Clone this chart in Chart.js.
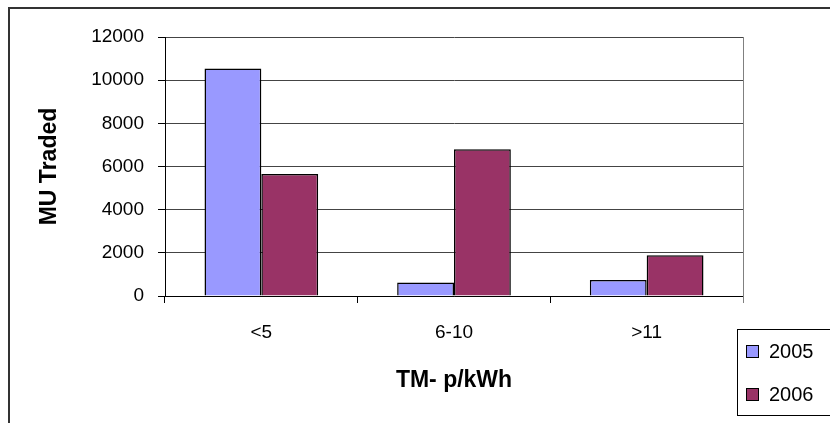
<!DOCTYPE html>
<html lang="en">
<head>
    <meta charset="UTF-8">
    <title>MU Traded by TM price band</title>
    <script src="https://cdn.jsdelivr.net/npm/chart.js"></script>
    <style>
        body {
            margin: 0;
            padding: 0;
            background: #ffffff;
        }

        #wrap {
            width: 830px;
            height: 423px;
            position: relative;
        }
    </style>
</head>
<body>
    <div id="wrap">
        <canvas id="tradeChart" width="830" height="423"></canvas>
    </div>

    <script>
        // Daten
        const categories = ['<5', '6-10', '>11'];
        const seriesNames = ['2005', '2006'];
        const values2005 = [10540, 620, 740];
        const values2006 = [5650, 6800, 1890];
        const yTicks = [0, 2000, 4000, 6000, 8000, 10000, 12000];

        const FONT = "'Liberation Sans', Arial, sans-serif";
        const colors = ['#9999FF', '#993366'];

        // Rahmen aussen, Plotrand rechts und Legende (Excel-Stil)
        const excelFrame = {
            id: 'excelFrame',
            beforeDraw(chart) {
                const c = chart.ctx;
                c.save();
                c.fillStyle = '#ffffff';
                c.fillRect(0, 0, chart.width, chart.height);
                c.strokeStyle = '#333333';
                c.lineWidth = 2;
                c.beginPath();
                c.moveTo(9, chart.height + 5);
                c.lineTo(9, 8);
                c.lineTo(chart.width + 5, 8);
                c.stroke();
                c.restore();
            },
            afterDraw(chart) {
                const c = chart.ctx;
                const area = chart.chartArea;
                c.save();
                // rechter Plotrand
                c.strokeStyle = '#808080';
                c.lineWidth = 1;
                c.beginPath();
                c.moveTo(Math.round(area.right) + 0.5, area.top);
                c.lineTo(Math.round(area.right) + 0.5, area.bottom + 7);
                c.stroke();

                // Legende
                c.fillStyle = '#ffffff';
                c.fillRect(737, 329, 100, 86);
                c.strokeStyle = '#000000';
                c.strokeRect(737.5, 329.5, 100, 86);
                c.font = '20px ' + FONT;
                c.textBaseline = 'middle';
                chart.data.datasets.forEach((ds, i) => {
                    const y = 351 + i * 43;
                    c.fillStyle = ds.backgroundColor;
                    c.fillRect(746, y - 6, 13, 13);
                    c.strokeStyle = '#000000';
                    c.strokeRect(746.5, y - 5.5, 12, 12);
                    c.fillStyle = '#000000';
                    c.fillText(ds.label, 769, y + 1);
                });
                c.restore();
            }
        };

        const ctx = document.getElementById('tradeChart').getContext('2d');

        new Chart(ctx, {
            type: 'bar',
            data: {
                labels: categories,
                datasets: [
                    {
                        label: seriesNames[0],
                        data: values2005,
                        backgroundColor: colors[0],
                        borderColor: '#000000',
                        borderWidth: 1.5
                    },
                    {
                        label: seriesNames[1],
                        data: values2006,
                        backgroundColor: colors[1],
                        borderColor: '#000000',
                        borderWidth: 1.5
                    }
                ]
            },
            options: {
                responsive: false,
                animation: false,
                devicePixelRatio: 1,
                layout: {
                    padding: { top: 37, right: 87, bottom: 0, left: 0 }
                },
                datasets: {
                    bar: {
                        categoryPercentage: 0.59,
                        barPercentage: 1.0
                    }
                },
                plugins: {
                    legend: { display: false },
                    tooltip: { enabled: false }
                },
                scales: {
                    x: {
                        afterFit(scale) { scale.height = 127; },
                        grid: {
                            offset: true,
                            drawOnChartArea: false,
                            drawTicks: true,
                            tickLength: 7,
                            color: '#000000'
                        },
                        border: { color: '#000000', width: 1 },
                        ticks: {
                            color: '#000000',
                            font: { family: FONT, size: 19 },
                            padding: 18
                        },
                        title: {
                            display: true,
                            text: 'TM- p/kWh',
                            color: '#000000',
                            font: { family: FONT, size: 23, weight: 'bold' },
                            padding: { top: 0, bottom: 29 }
                        }
                    },
                    y: {
                        min: 0,
                        max: 12000,
                        afterFit(scale) { scale.width = 165; },
                        afterBuildTicks(scale) {
                            scale.ticks = yTicks.map(v => ({ value: v }));
                        },
                        grid: {
                            color: '#444444',
                            lineWidth: 1,
                            drawTicks: true,
                            tickLength: 7,
                            tickColor: '#000000'
                        },
                        border: { color: '#000000', width: 1 },
                        ticks: {
                            color: '#000000',
                            font: { family: FONT, size: 19 },
                            padding: 14,
                            callback: value => String(value)
                        },
                        title: {
                            display: true,
                            text: 'MU Traded',
                            color: '#000000',
                            font: { family: FONT, size: 23, weight: 'bold' },
                            padding: { top: 36, bottom: 0 }
                        }
                    }
                }
            },
            plugins: [excelFrame]
        });
    </script>
</body>
</html>
